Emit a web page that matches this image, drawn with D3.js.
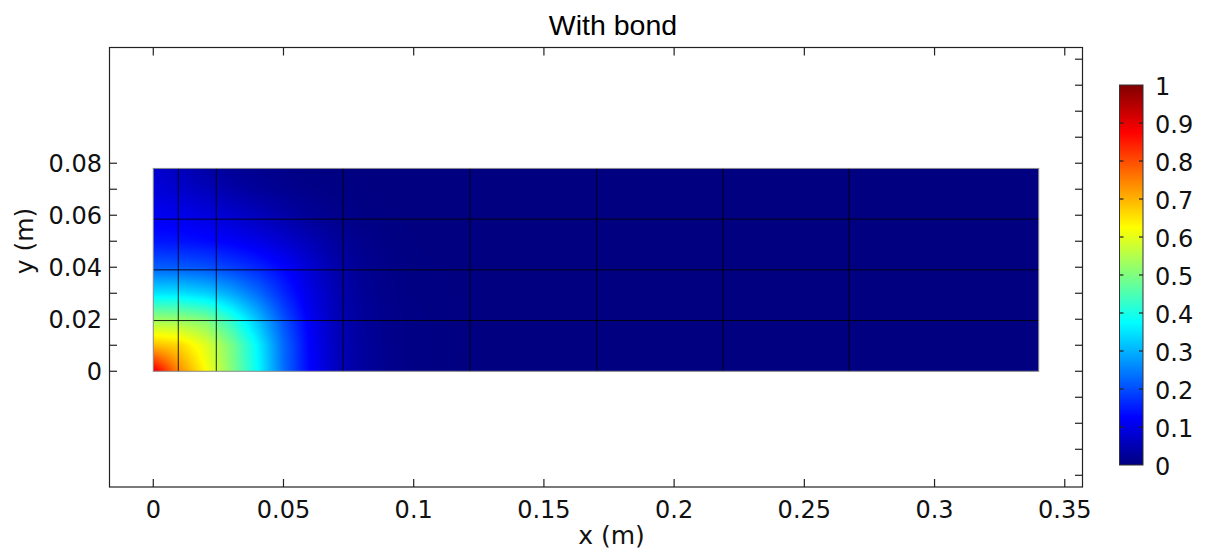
<!DOCTYPE html>
<html><head><meta charset="utf-8">
<script src="https://cdn.jsdelivr.net/npm/d3@7"></script>
<style>body{margin:0;background:#fff}svg{display:block}</style>
</head><body><svg id="chart" width="1212" height="552"></svg>
<script>
// ---------- data ----------
const title = "With bond";
const xLabel = "x (m)";
const yLabel = "y (m)";
const xTicks = [0, 0.05, 0.1, 0.15, 0.2, 0.25, 0.3, 0.35];
const xTickLabels = ["0", "0.05", "0.1", "0.15", "0.2", "0.25", "0.3", "0.35"];
const yTicks = [0, 0.02, 0.04, 0.06, 0.08];
const yTickLabels = ["0", "0.02", "0.04", "0.06", "0.08"];
const yMinorTicks = [0, 0.01, 0.02, 0.03, 0.04, 0.05, 0.06, 0.07, 0.08];
const rightTicks = [-0.04, -0.03, -0.02, -0.01, 0, 0.01, 0.02, 0.03, 0.04, 0.05, 0.06, 0.07, 0.08, 0.09, 0.1, 0.11, 0.12];
const colorTicks = [0, 0.1, 0.2, 0.3, 0.4, 0.5, 0.6, 0.7, 0.8, 0.9, 1];
const colorTickLabels = ["0", "0.1", "0.2", "0.3", "0.4", "0.5", "0.6", "0.7", "0.8", "0.9", "1"];
const domainX = [0, 0.34];
const domainY = [0, 0.078];
const meshX = [0.0096, 0.0242, 0.0729, 0.1216, 0.1703, 0.2188, 0.2672];
const meshY = [0.0195, 0.039, 0.0585];
const gridX = [0, 0.01, 0.02, 0.03, 0.04, 0.05, 0.06, 0.07, 0.08, 0.09, 0.10, 0.12, 0.15, 0.34];
const gridY = [0, 0.01, 0.02, 0.03, 0.04, 0.05, 0.06, 0.07, 0.078];
const field = [
  [0.900, 0.740, 0.627, 0.505, 0.377, 0.233, 0.127, 0.064, 0.031, 0.014, 0.006, 0.001, 0, 0],
  [0.690, 0.665, 0.597, 0.495, 0.369, 0.229, 0.124, 0.062, 0.030, 0.013, 0.005, 0.001, 0, 0],
  [0.527, 0.523, 0.499, 0.416, 0.314, 0.206, 0.115, 0.058, 0.027, 0.012, 0.005, 0.001, 0, 0],
  [0.350, 0.347, 0.330, 0.290, 0.232, 0.162, 0.100, 0.052, 0.024, 0.010, 0.004, 0.001, 0, 0],
  [0.218, 0.214, 0.204, 0.186, 0.160, 0.126, 0.082, 0.043, 0.019, 0.008, 0.003, 0.001, 0, 0],
  [0.145, 0.141, 0.133, 0.120, 0.102, 0.080, 0.054, 0.029, 0.013, 0.005, 0.002, 0, 0, 0],
  [0.112, 0.106, 0.094, 0.078, 0.059, 0.040, 0.023, 0.012, 0.005, 0.002, 0.001, 0, 0, 0],
  [0.090, 0.077, 0.058, 0.040, 0.026, 0.016, 0.009, 0.005, 0.002, 0.001, 0, 0, 0, 0],
  [0.080, 0.060, 0.038, 0.022, 0.013, 0.008, 0.004, 0.002, 0.001, 0, 0, 0, 0, 0]
];

// ---------- layout ----------
const svg = d3.select("#chart");
const frame = {left: 109, right: 1083, top: 47.5, bottom: 487};
const x = d3.scaleLinear().domain([-0.017, 0.357]).range([frame.left, frame.right]);
const y = d3.scaleLinear().domain([-0.0445, 0.1245]).range([frame.bottom, frame.top]);

function jet(v) {
  const c = t => Math.max(0, Math.min(1, t));
  const r = c(1.5 - Math.abs(4 * v - 3));
  const g = c(1.5 - Math.abs(4 * v - 2));
  const b = c(1.5 - Math.abs(4 * v - 1));
  return d3.rgb(r * 255, g * 255, b * 255);
}
const color = d3.scaleSequential(jet).domain([0, 1]);

// ---------- field image ----------
const x0 = x(domainX[0]), x1 = x(domainX[1]);
const yT = y(domainY[1]), yB = y(domainY[0]);
const W = Math.round(x1 - x0), H = Math.round(yB - yT);
const cnv = document.createElement("canvas");
cnv.width = W; cnv.height = H;
const ctx = cnv.getContext("2d");
const img = ctx.createImageData(W, H);
function locate(arr, v) {
  let i = d3.bisectRight(arr, v) - 1;
  i = Math.max(0, Math.min(arr.length - 2, i));
  const t = Math.max(0, Math.min(1, (v - arr[i]) / (arr[i + 1] - arr[i])));
  return [i, t];
}
const colLoc = d3.range(W).map(px => locate(gridX, x.invert(x0 + (px + 0.5) * (x1 - x0) / W)));
for (let py = 0; py < H; py++) {
  const [j, ty] = locate(gridY, y.invert(yT + (py + 0.5) * (yB - yT) / H));
  for (let px = 0; px < W; px++) {
    const [i, tx] = colLoc[px];
    const v = (1 - ty) * ((1 - tx) * field[j][i] + tx * field[j][i + 1]) +
              ty * ((1 - tx) * field[j + 1][i] + tx * field[j + 1][i + 1]);
    const c = color(v);
    const k = (py * W + px) * 4;
    img.data[k] = c.r; img.data[k + 1] = c.g; img.data[k + 2] = c.b; img.data[k + 3] = 255;
  }
}
ctx.putImageData(img, 0, 0);
svg.append("image")
  .attr("x", x0).attr("y", yT).attr("width", x1 - x0).attr("height", yB - yT)
  .attr("preserveAspectRatio", "none")
  .attr("href", cnv.toDataURL());

// mesh lines
const mesh = svg.append("g").attr("stroke", "#000").attr("stroke-width", 1).attr("stroke-opacity", 0.85);
mesh.selectAll(".mx").data(meshX).join("line")
  .attr("x1", d => x(d)).attr("x2", d => x(d)).attr("y1", yT).attr("y2", yB);
mesh.selectAll(".my").data(meshY).join("line")
  .attr("x1", x0).attr("x2", x1).attr("y1", d => y(d)).attr("y2", d => y(d));
svg.append("rect").attr("x", x0).attr("y", yT).attr("width", x1 - x0).attr("height", yB - yT)
  .attr("fill", "none").attr("stroke", "#8a8a8a").attr("stroke-width", 1);

// ---------- axes frame & ticks ----------
const axisColor = "#222";
const tl = 8;
svg.append("rect").attr("x", frame.left + 0.5).attr("y", frame.top).attr("width", frame.right - frame.left - 1)
  .attr("height", frame.bottom - frame.top).attr("fill", "none").attr("stroke", axisColor).attr("stroke-width", 1.2);
const tk = svg.append("g").attr("stroke", axisColor).attr("stroke-width", 1.2);
tk.selectAll(".bt").data(xTicks).join("line")
  .attr("x1", d => x(d)).attr("x2", d => x(d)).attr("y1", frame.bottom).attr("y2", frame.bottom - tl);
tk.selectAll(".tt").data(xTicks).join("line")
  .attr("x1", d => x(d)).attr("x2", d => x(d)).attr("y1", frame.top).attr("y2", frame.top + tl);
tk.selectAll(".lt").data(yMinorTicks).join("line")
  .attr("x1", frame.left).attr("x2", frame.left + tl).attr("y1", d => y(d)).attr("y2", d => y(d));
tk.selectAll(".rt").data(rightTicks).join("line")
  .attr("x1", frame.right).attr("x2", frame.right - tl).attr("y1", d => y(d)).attr("y2", d => y(d));

const font = "DejaVu Sans, Verdana, sans-serif";
svg.append("g").selectAll("text").data(xTicks).join("text")
  .attr("x", d => x(d)).attr("y", 518).attr("text-anchor", "middle")
  .attr("font-family", font).attr("font-size", 24).attr("fill", "#111")
  .text((d, i) => xTickLabels[i]);
svg.append("g").selectAll("text").data(yTicks).join("text")
  .attr("x", 102).attr("y", d => y(d)).attr("dy", "0.36em").attr("text-anchor", "end")
  .attr("font-family", font).attr("font-size", 24).attr("fill", "#111")
  .text((d, i) => yTickLabels[i]);

svg.append("text").attr("x", 611.5).attr("y", 544).attr("text-anchor", "middle")
  .attr("font-family", font).attr("font-size", 25).attr("fill", "#111").text(xLabel);
svg.append("text").attr("transform", "translate(33,241) rotate(-90)").attr("text-anchor", "middle")
  .attr("font-family", font).attr("font-size", 25).attr("fill", "#111").text(yLabel);
svg.append("text").attr("x", 613).attr("y", 35).attr("text-anchor", "middle")
  .attr("font-family", "Liberation Sans, Arial, sans-serif").attr("font-size", 28.5).attr("fill", "#000").text(title);

// ---------- colorbar ----------
const cb = {x: 1119.5, w: 23.5, top: 85, bottom: 465};
const cy = d3.scaleLinear().domain([0, 1]).range([cb.bottom, cb.top]);
const defs = svg.append("defs");
const grad = defs.append("linearGradient").attr("id", "jetgrad")
  .attr("x1", 0).attr("y1", 1).attr("x2", 0).attr("y2", 0);
grad.selectAll("stop").data([0, 0.125, 0.375, 0.625, 0.875, 1]).join("stop")
  .attr("offset", d => d).attr("stop-color", d => color(d).formatHex());
svg.append("rect").attr("x", cb.x).attr("y", cb.top).attr("width", cb.w).attr("height", cb.bottom - cb.top)
  .attr("fill", "url(#jetgrad)").attr("stroke", "#333").attr("stroke-width", 1);
const ctk = svg.append("g").attr("stroke", "#222").attr("stroke-width", 1.2);
ctk.selectAll(".cl").data(colorTicks.slice(1, -1)).join("line")
  .attr("x1", cb.x).attr("x2", cb.x + 4).attr("y1", d => cy(d)).attr("y2", d => cy(d));
ctk.selectAll(".cr").data(colorTicks.slice(1, -1)).join("line")
  .attr("x1", cb.x + cb.w).attr("x2", cb.x + cb.w - 4).attr("y1", d => cy(d)).attr("y2", d => cy(d));
svg.append("g").selectAll("text").data(colorTicks).join("text")
  .attr("x", 1155).attr("y", d => cy(d) + 1).attr("dy", "0.36em")
  .attr("font-family", font).attr("font-size", 24).attr("fill", "#111")
  .text((d, i) => colorTickLabels[i]);
</script></body></html>
